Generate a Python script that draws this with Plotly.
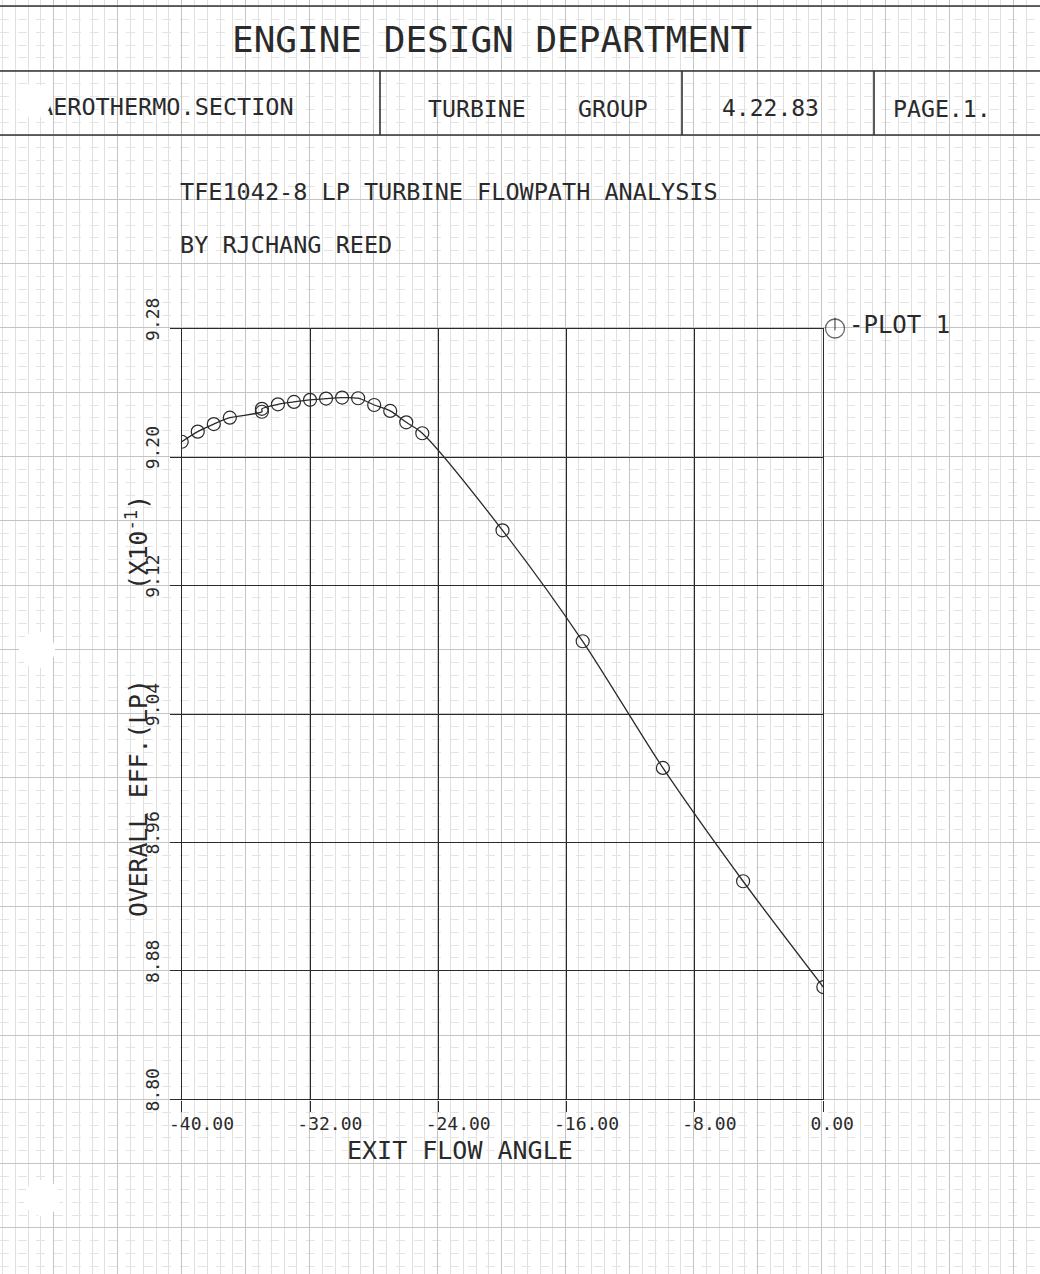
import plotly.graph_objects as go

# ---------------- data ----------------
exit_flow_angle = [-40, -39, -38, -37, -35, -35, -34, -33, -32, -31, -30, -29,
                   -28, -27, -26, -25, -20, -15, -10, -5, 0]
overall_eff = [9.2097, 9.2160, 9.2207, 9.2247, 9.2284, 9.2302, 9.2330, 9.2345,
               9.2358, 9.2366, 9.2372, 9.2368, 9.2326, 9.2289, 9.2218, 9.2150,
               9.1545, 9.0854, 9.0065, 8.9359, 8.8700]
x_tickvals = [-40, -32, -24, -16, -8, 0]
x_ticktext = ["-40.00", "-32.00", "-24.00", "-16.00", "-8.00", "0.00"]
y_tickvals = [8.80, 8.88, 8.96, 9.04, 9.12, 9.20, 9.28]
y_ticktext = ["8.80", "8.88", "8.96", "9.04", "9.12", "9.20", "9.28"]

W, H = 1040, 1274
INK = "#2a2a2a"
FONT = "DejaVu Sans Mono"

# plot frame in page pixels
PX0, PX1 = 181.7, 823.3
PY_TOP, PY_BOT = 328.9, 1099.4


def fx(px):
    return px / W


def fy(py):
    return 1 - py / H


fig = go.Figure()

# page-level text that can be covered by punch holes
fig.add_trace(go.Scatter(
    x=[39], y=[109], mode="text", text=["AEROTHERMO.SECTION"],
    textposition="middle right", textfont=dict(family=FONT, size=23.5, color=INK),
    xaxis="x", yaxis="y", showlegend=False, hoverinfo="skip"))

# legend glyph
fig.add_trace(go.Scatter(
    x=[835, 835], y=[328.5, 324], mode="markers",
    marker=dict(symbol=["circle-open", "line-ns-open"], size=[19, 9],
                color=INK, line=dict(color=INK, width=1.3)),
    xaxis="x", yaxis="y", showlegend=False, hoverinfo="skip"))

# data curve
fig.add_trace(go.Scatter(
    x=exit_flow_angle, y=overall_eff, mode="lines+markers", name="PLOT 1",
    line=dict(color=INK, width=1.3, shape="spline", smoothing=0.8),
    marker=dict(symbol="circle-open", size=13, color=INK, line=dict(color=INK, width=1.2)),
    xaxis="x2", yaxis="y2", showlegend=False))

fig.update_layout(
    template="none",
    width=W, height=H, autosize=False,
    margin=dict(l=0, r=0, t=0, b=0, pad=0, autoexpand=False),
    paper_bgcolor="white", plot_bgcolor="rgba(0,0,0,0)",
    showlegend=False,
    font=dict(family=FONT, color=INK),
    xaxis=dict(domain=[0, 1], range=[0, W], showticklabels=False, ticks="",
               zeroline=False, showline=False, fixedrange=True, automargin=False,
               showgrid=True, tick0=PX0, dtick=64, gridcolor="#c4c4c4", gridwidth=1,
               minor=dict(showgrid=True, tick0=PX0, dtick=12.8, gridcolor="#e0e0e0", gridwidth=1)),
    yaxis=dict(domain=[0, 1], range=[H, 0], showticklabels=False, ticks="",
               zeroline=False, showline=False, fixedrange=True, automargin=False,
               showgrid=True, tick0=PY_BOT, dtick=64.29, gridcolor="#c4c4c4", gridwidth=1,
               minor=dict(showgrid=True, tick0=PY_BOT, dtick=12.858, gridcolor="#e4e4e4",
                          gridwidth=1, griddash="dash")),
    xaxis2=dict(domain=[fx(PX0), fx(PX1)], range=[-40, 0], anchor="y2", automargin=False,
                tickmode="array", tickvals=x_tickvals, ticktext=x_ticktext,
                ticks="outside", ticklen=11, tickwidth=1.3, tickcolor=INK,
                showgrid=True, gridcolor=INK, gridwidth=1.3,
                showline=True, mirror=True, linecolor=INK, linewidth=1.3,
                zeroline=False, ticklabelposition="outside right", ticklabelshift=-14,
                ticklabelstandoff=8,
                tickfont=dict(family=FONT, size=18, color=INK)),
    yaxis2=dict(domain=[fy(PY_BOT), fy(PY_TOP)], range=[8.80, 9.28], anchor="x2",
                automargin=False,
                tickmode="array", tickvals=y_tickvals, ticktext=y_ticktext,
                ticks="outside", ticklen=11, tickwidth=1.3, tickcolor=INK,
                showgrid=True, gridcolor=INK, gridwidth=1.3,
                showline=True, mirror=True, linecolor=INK, linewidth=1.3,
                zeroline=False, tickangle=-90, ticklabelshift=-7, ticklabelstandoff=3,
                tickfont=dict(family=FONT, size=18, color=INK)),
)

# header rule lines
shapes = []
for py in [6, 71, 135]:
    shapes.append(dict(type="line", xref="paper", yref="paper", x0=0, x1=1,
                       y0=fy(py), y1=fy(py), line=dict(color="#333333", width=1.6)))
for px in [380, 682, 874]:
    shapes.append(dict(type="line", xref="paper", yref="paper", x0=fx(px), x1=fx(px),
                       y0=fy(71), y1=fy(135), line=dict(color="#333333", width=1.6)))
# punch holes
for cx, cy, r in [(34, 101, 17), (37, 650, 18), (42, 1198, 18)]:
    shapes.append(dict(type="circle", xref="paper", yref="paper", layer="above",
                       x0=fx(cx - r), x1=fx(cx + r), y0=fy(cy + r), y1=fy(cy - r),
                       fillcolor="white", line=dict(width=0)))
fig.update_layout(shapes=shapes)


def ann(text, px, py, size, xanchor="left", angle=0):
    fig.add_annotation(text=text, x=fx(px), y=fy(py), xref="paper", yref="paper",
                       xanchor=xanchor, yanchor="middle", showarrow=False,
                       textangle=angle, font=dict(family=FONT, size=size, color=INK))


ann("ENGINE DESIGN DEPARTMENT", 491.5, 39, 36, "center")
ann("TURBINE", 426, 108, 23.2)
ann("GROUP", 576, 108, 23.2)
ann("4.22.83", 770, 108, 23, "center")
ann("PAGE.1.", 891, 108, 23.2)
ann("TFE1042-8 LP TURBINE FLOWPATH ANALYSIS", 178, 192, 23.5)
ann("BY RJCHANG REED", 178, 245, 23.5)
ann("-PLOT 1", 847, 325, 24)
ann("EXIT FLOW ANGLE", 460, 1150, 25, "center")
ann("OVERALL EFF.(LP)      (X10<sup>-1</sup>)", 137, 706, 24.7, "center", -90)

fig.write_html("out.html", config={"displayModeBar": False},
               post_script="document.body.style.margin='0';document.body.style.overflow='hidden';")
